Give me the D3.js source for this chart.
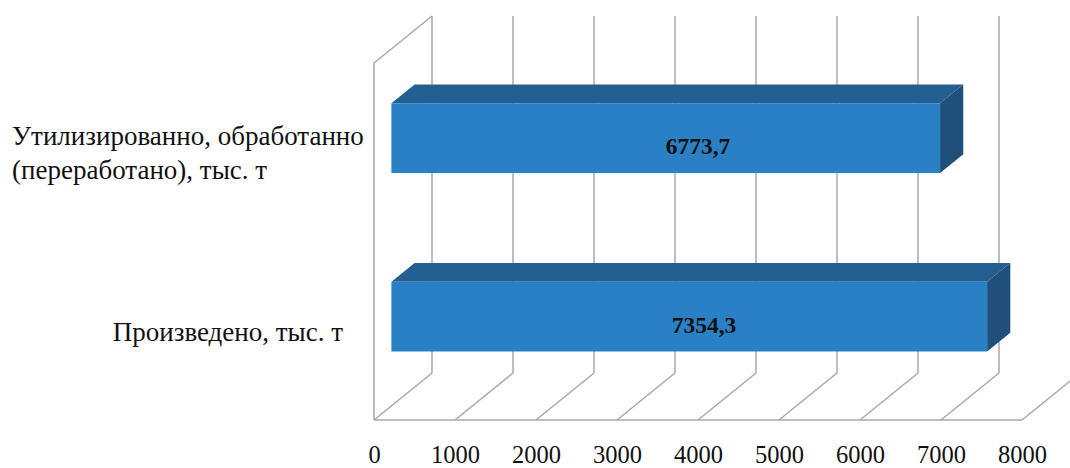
<!DOCTYPE html>
<html lang="ru">
<head>
<meta charset="utf-8">
<script src="https://cdn.jsdelivr.net/npm/d3@7"></script>
<style>
  html, body { margin: 0; padding: 0; background: #fff; }
  svg { display: block; }
  svg text { font-family: "Liberation Serif", "Times New Roman", "DejaVu Serif", serif; }
</style>
</head>
<body>
<svg id="chart" width="1070" height="468"></svg>
<script>
// Categories, top to bottom, with wrapped label lines
const categories = ["Утилизированно, обработанно (переработано), тыс. т", "Произведено, тыс. т"];
const categoryLines = [["Утилизированно, обработанно", "(переработано), тыс. т"], ["Произведено, тыс. т"]];
const values = [6773.7, 7354.3];
const valueLabels = ["6773,7", "7354,3"];
const tickValues = [0, 1000, 2000, 3000, 4000, 5000, 6000, 7000, 8000];

const svg = d3.select("#chart");
const serif = '"Liberation Serif", "Times New Roman", "DejaVu Serif", serif';

// Front plane of the 3D box and the depth vector to the back wall
const frontLeft = 374, frontRight = 1022;
const frontTop = 63, frontBottom = 420;
const depthX = 58, depthY = -47;

const x = d3.scaleLinear().domain([0, 8000]).range([0, frontRight - frontLeft]);
const y = d3.scaleBand().domain(categories).range([frontTop, frontBottom])
  .paddingInner(0.61).paddingOuter(0.305);

// Project a value / vertical position / depth fraction (0 = front, 1 = back)
function P(v, py, d) {
  return [frontLeft + x(v) + d * depthX, py + d * depthY];
}
const line = d3.line();
const gridColor = "#a8a8a8";

const grid = svg.append("g").attr("fill", "none").attr("stroke", gridColor).attr("stroke-width", 1.5);

// Back wall vertical gridlines
tickValues.forEach(t => {
  grid.append("path").attr("d", line([P(t, frontTop, 1), P(t, frontBottom, 1)]));
});
// Floor: diagonal lines from front to back at each tick
tickValues.forEach(t => {
  grid.append("path").attr("d", line([P(t, frontBottom, 0), P(t, frontBottom, 1)]));
});
// Floor front edge
grid.append("path").attr("d", line([P(0, frontBottom, 0), P(8000, frontBottom, 0)]));
// Side wall: front edge and top edge
grid.append("path").attr("d", line([P(0, frontBottom, 0), P(0, frontTop, 0), P(0, frontTop, 1)]));

// Bars: centred in depth
const d0 = 0.3, d1 = 0.7;
const colFront = "#2a80c4", colTop = "#245f91", colSide = "#1f4f7a";

const bars = svg.append("g");
categories.forEach((c, i) => {
  const v = values[i];
  const yt = y(c), yb = y(c) + y.bandwidth();
  const g = bars.append("g");
  // top face
  g.append("path").attr("fill", colTop)
    .attr("d", line([P(0, yt, d0), P(v, yt, d0), P(v, yt, d1), P(0, yt, d1)]) + "Z");
  // right end face
  g.append("path").attr("fill", colSide)
    .attr("d", line([P(v, yt, d0), P(v, yt, d1), P(v, yb, d1), P(v, yb, d0)]) + "Z");
  // front face
  g.append("path").attr("fill", colFront)
    .attr("d", line([P(0, yt, d0), P(v, yt, d0), P(v, yb, d0), P(0, yb, d0)]) + "Z");
  // value label
  const cy = (yt + yb) / 2 - 6;
  g.append("text")
    .attr("x", frontLeft + x(4000) + i * 6)
    .attr("y", cy)
    .attr("dy", "0.35em")
    .attr("text-anchor", "middle")
    .style("font-family", serif)
    .attr("font-weight", "bold")
    .attr("font-size", 23.5)
    .attr("fill", "#111")
    .text(valueLabels[i]);
});

// Value axis tick labels
const axis = d3.axisBottom(d3.scaleLinear().domain([0, 8000]).range([frontLeft, frontRight]))
  .tickValues(tickValues).tickSize(0).tickPadding(0).tickFormat(d3.format("d"));
const axG = svg.append("g").attr("transform", `translate(0, ${frontBottom + 26})`).call(axis)
  .attr("font-family", null).attr("font-size", null);
axG.select(".domain").remove();
axG.selectAll("text")
  .style("font-family", serif)
  .attr("font-size", 24.5)
  .attr("fill", "#111");

// Category labels
const catG = svg.append("g")
  .attr("font-size", 27)
  .attr("fill", "#111");
const lineH = 34;
categories.forEach((c, i) => {
  const lines = categoryLines[i];
  const cy = y(c) + y.bandwidth() / 2;
  const t = catG.append("text").style("font-family", serif);
  if (lines.length > 1) {
    t.attr("text-anchor", "start");
    lines.forEach((ln, k) => {
      t.append("tspan").attr("x", 12)
        .attr("y", cy + 10 + (k - (lines.length - 1) / 2) * lineH)
        .text(ln);
    });
  } else {
    t.attr("text-anchor", "end").attr("x", 343).attr("y", cy + 10).text(lines[0]);
  }
});
</script>
</body>
</html>
